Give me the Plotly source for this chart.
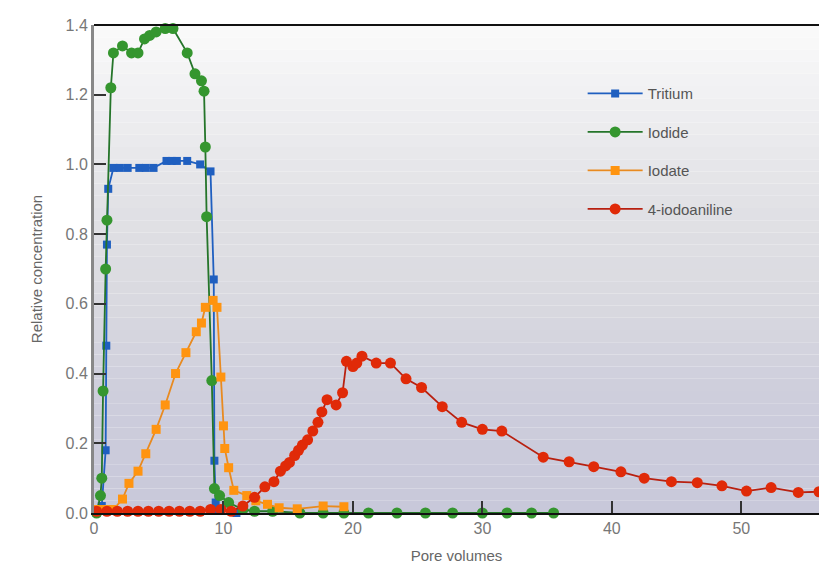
import plotly.graph_objects as go

# ---- data ----
tritium_x = [0.2, 0.6, 0.9, 0.95, 1.0, 1.1, 1.5, 2.0, 2.6, 3.5, 4.0, 4.6, 5.6, 6.0, 6.4, 7.2, 8.2, 9.0, 9.25, 9.3, 9.4, 9.6, 11.0]
tritium_y = [0.0, 0.02, 0.18, 0.48, 0.77, 0.93, 0.99, 0.99, 0.99, 0.99, 0.99, 0.99, 1.01, 1.01, 1.01, 1.01, 1.0, 0.98, 0.67, 0.15, 0.03, 0.01, 0.0]

iodide_x = [0.2, 0.5, 0.6, 0.7, 0.9, 1.0, 1.3, 1.5, 2.2, 2.9, 3.4, 3.9, 4.3, 4.8, 5.5, 6.1, 7.2, 7.8, 8.3, 8.5, 8.6, 8.7, 9.1, 9.3, 9.7, 10.4, 11.5,
            12.4, 13.8, 15.9, 17.7, 19.3, 21.2, 23.4, 25.6, 27.7, 30.0, 31.9, 33.8, 35.5]
iodide_y = [0.0, 0.05, 0.10, 0.35, 0.70, 0.84, 1.22, 1.32, 1.34, 1.32, 1.32, 1.36, 1.37, 1.38, 1.39, 1.39, 1.32, 1.26, 1.24, 1.21, 1.05, 0.85, 0.38, 0.07, 0.05, 0.03, 0.01,
            0.005, 0.005, 0.0, 0.0, 0.0, 0.0, 0.0, 0.0, 0.0, 0.0, 0.0, 0.0, 0.0]

iodate_x = [0.2, 0.6, 1.0, 1.5, 2.2, 2.7, 3.4, 4.0, 4.8, 5.5, 6.3, 7.1, 7.9, 8.3, 8.6, 9.2, 9.5, 9.8, 10.0, 10.1, 10.4, 10.8, 11.8, 12.5,
            13.4, 14.3, 15.7, 17.7, 19.3]
iodate_y = [0.01, 0.01, 0.01, 0.01, 0.04, 0.085, 0.12, 0.17, 0.24, 0.31, 0.40, 0.46, 0.52, 0.545, 0.59, 0.61, 0.59, 0.39, 0.25, 0.185, 0.13, 0.065, 0.05, 0.035,
            0.025, 0.015, 0.012, 0.02, 0.018]

aniline_x = [0.2, 1.0, 1.8, 2.6, 3.4, 4.2, 5.0, 5.8, 6.6, 7.4, 8.2, 9.0, 9.8, 10.6, 11.5, 12.4, 13.2, 13.9, 14.4, 14.8, 15.1, 15.5, 15.8, 16.1,
             16.5, 16.9, 17.3, 17.6, 18.0, 18.7, 19.2, 19.5, 20.0, 20.3, 20.7, 21.8, 22.9, 24.1, 25.3, 26.9, 28.4, 30.0, 31.5, 34.7, 36.7,
             38.6, 40.7, 42.5, 44.6, 46.6, 48.5, 50.4, 52.3, 54.4, 56.0]
aniline_y = [0.005, 0.005, 0.005, 0.005, 0.005, 0.005, 0.005, 0.005, 0.005, 0.005, 0.005, 0.01, 0.01, 0.005, 0.02, 0.045, 0.075, 0.09, 0.12, 0.135, 0.145, 0.165, 0.18, 0.195,
             0.21, 0.235, 0.26, 0.29, 0.325, 0.31, 0.345, 0.435, 0.42, 0.43, 0.45, 0.43, 0.43, 0.385, 0.36, 0.305, 0.26, 0.24, 0.235, 0.16, 0.147,
             0.133, 0.118, 0.10, 0.09, 0.087, 0.078, 0.063, 0.073, 0.059, 0.061]

x_ticks = [0, 10, 20, 30, 40, 50]
x_tick_text = ["0", "10", "20", "30", "40", "50"]
y_ticks = [0.0, 0.2, 0.4, 0.6, 0.8, 1.0, 1.2, 1.4]
y_tick_text = ["0.0", "0.2", "0.4", "0.6", "0.8", "1.0", "1.2", "1.4"]

FONT = "Liberation Sans, Arial, Helvetica, sans-serif"

fig = go.Figure()

series = [
    ("Tritium", tritium_x, tritium_y, "#1f5fc0", "#1f5fc0", "square", 8),
    ("Iodide", iodide_x, iodide_y, "#35962f", "#25752a", "circle", 11),
    ("Iodate", iodate_x, iodate_y, "#ff9410", "#e88a20", "square", 9),
    ("4-iodoaniline", aniline_x, aniline_y, "#e02a08", "#b82010", "circle", 11),
]
for name, xs, ys, mcol, lcol, sym, sz in series:
    fig.add_trace(go.Scatter(
        x=xs, y=ys, name=name, mode="lines+markers",
        line=dict(color=lcol, width=1.8),
        marker=dict(color=mcol, symbol=sym, size=sz, line=dict(width=0)),
        cliponaxis=False, legendgroup=name,
    ))

# gradient background bands (light top -> bluish grey bottom)
stops = [(0.0, (200, 200, 218)), (0.25, (206, 206, 220)), (0.45, (218, 218, 224)),
         (0.65, (226, 226, 230)), (0.85, (240, 240, 242)), (1.0, (250, 250, 250))]
def col_at(t):
    for (t0, c0), (t1, c1) in zip(stops[:-1], stops[1:]):
        if t0 <= t <= t1:
            f = (t - t0) / (t1 - t0)
            return "rgb(%d,%d,%d)" % tuple(round(a + (b - a) * f) for a, b in zip(c0, c1))
    return "rgb(250,250,250)"
N = 40
for i in range(N):
    fig.add_shape(type="rect", xref="paper", yref="paper", x0=0, x1=1,
                  y0=i / N, y1=(i + 1) / N, layer="below", line=dict(width=0),
                  fillcolor=col_at((i + 0.5) / N))
# top border
fig.add_shape(type="line", xref="paper", yref="paper", x0=0, x1=1, y0=1, y1=1,
              line=dict(color="#111111", width=2))

fig.update_layout(
    width=819, height=568,
    margin=dict(l=94, r=0, t=25, b=55, autoexpand=False),
    paper_bgcolor="white", plot_bgcolor="rgba(0,0,0,0)",
    font=dict(family=FONT, color="#666666", size=14),
    legend=dict(x=0.674, y=0.893, xanchor="left", yanchor="top",
                bgcolor="rgba(0,0,0,0)", font=dict(size=15, color="#555555"),
                tracegroupgap=16, itemwidth=55, traceorder="grouped"),
    xaxis=dict(range=[0, 56], tickmode="array", tickvals=x_ticks, ticktext=x_tick_text,
               ticks="inside", ticklen=12, tickwidth=1.5,
               tickcolor="#333333", showgrid=False, zeroline=False,
               showline=True, linecolor="#111111", linewidth=2,
               title=dict(text="Pore volumes", font=dict(size=15, color="#666666"), standoff=14),
               tickfont=dict(size=16, color="#777777")),
    yaxis=dict(range=[0, 1.4], tickmode="array", tickvals=y_ticks, ticktext=y_tick_text,
               ticks="inside", ticklen=12, tickwidth=1.5,
               tickcolor="#333333", showgrid=False, zeroline=False,
               showline=True, linecolor="#888888", linewidth=3,
               title=dict(text="Relative concentration", font=dict(size=15, color="#666666"), standoff=20),
               tickfont=dict(size=16, color="#777777")),
)

fig.write_html("out.html", config={"displayModeBar": False},
               post_script="document.body.style.margin='0';document.body.style.overflow='hidden';")
